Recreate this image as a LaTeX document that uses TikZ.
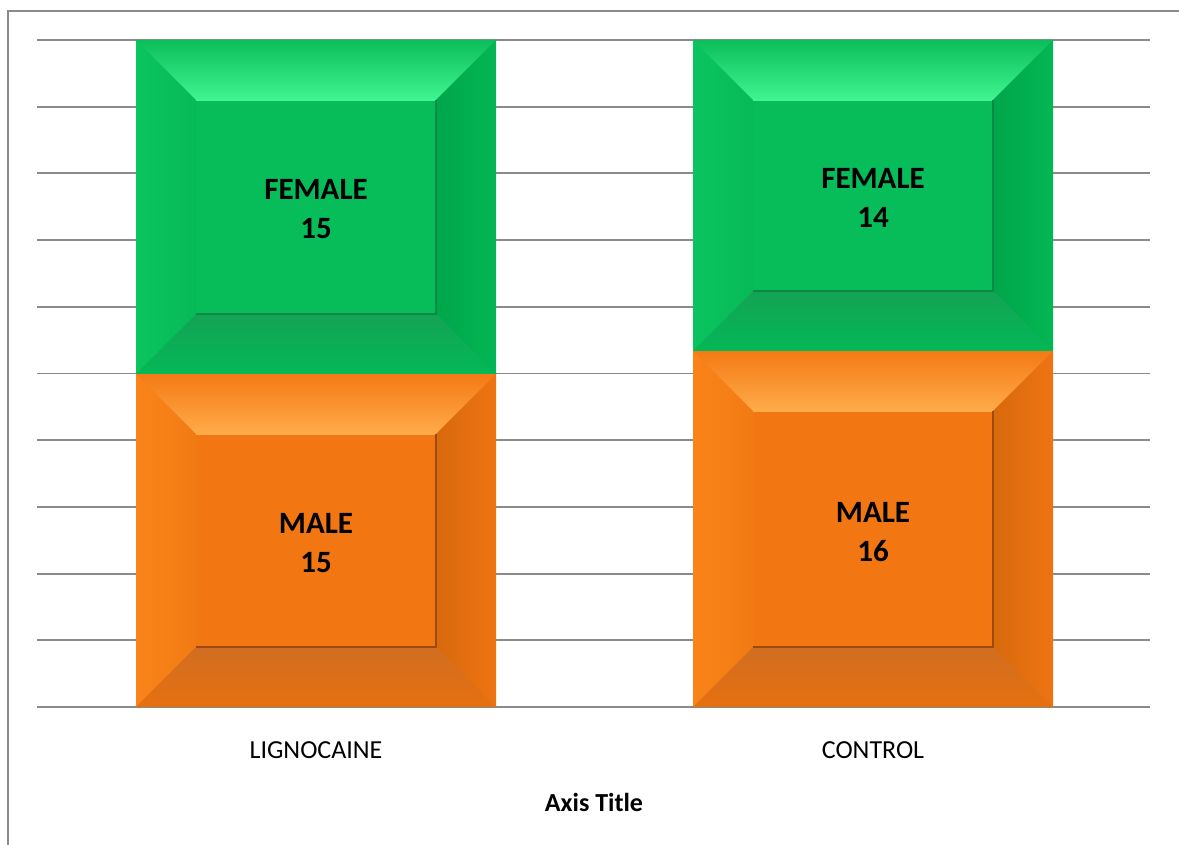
\documentclass[tikz,border=0pt]{standalone}
\usepackage{fontspec}
\setmainfont{Carlito}
\usepackage{tikz}
\usetikzlibrary{positioning}

% green segment colours
\definecolor{gface}{HTML}{07BD59}
\definecolor{gL1}{HTML}{0AC45F}
\definecolor{gL2}{HTML}{07BA58}
\definecolor{gT1}{HTML}{0BBE5A}
\definecolor{gT2}{HTML}{40F590}
\definecolor{gR1}{HTML}{00A64A}
\definecolor{gR2}{HTML}{04B654}
\definecolor{gB1}{HTML}{14A355}
\definecolor{gB2}{HTML}{03B856}
\definecolor{gedge}{HTML}{0A8A45}
% orange segment colours
\definecolor{oface}{HTML}{F27712}
\definecolor{oL1}{HTML}{FA8419}
\definecolor{oL2}{HTML}{F27A14}
\definecolor{oT1}{HTML}{F47A14}
\definecolor{oT2}{HTML}{FFAB4A}
\definecolor{oR1}{HTML}{D8690C}
\definecolor{oR2}{HTML}{EE7412}
\definecolor{oB1}{HTML}{D16E22}
\definecolor{oB2}{HTML}{E6700F}
\definecolor{oedge}{HTML}{9A4A0A}
\definecolor{gridgray}{HTML}{8A8A8A}

\newcommand{\bv}{60}
% bevelled segment: x0,y0,x1,y1,colour prefix
\newcommand{\bevelseg}[5]{%
  \fill[#5face] (#1,#2) rectangle (#3,#4);
  \shade[left color=#5L1, right color=#5L2] (#1,#2) -- ({#1+\bv},{#2+\bv}) -- ({#1+\bv},{#4-\bv}) -- (#1,#4) -- cycle;
  \shade[top color=#5T1, bottom color=#5T2] (#1,#2) -- (#3,#2) -- ({#3-\bv},{#2+\bv}) -- ({#1+\bv},{#2+\bv}) -- cycle;
  \shade[left color=#5R1, right color=#5R2] (#3,#2) -- ({#3-\bv},{#2+\bv}) -- ({#3-\bv},{#4-\bv}) -- (#3,#4) -- cycle;
  \shade[top color=#5B1, bottom color=#5B2] (#1,#4) -- ({#1+\bv},{#4-\bv}) -- ({#3-\bv},{#4-\bv}) -- (#3,#4) -- cycle;
  \draw[#5T2, line width=1.5pt] ({#1+\bv},{#2+\bv}) -- ({#3-\bv},{#2+\bv});
  \draw[#5edge, line width=2pt] ({#1+\bv},{#4-\bv}) -- ({#3-\bv},{#4-\bv}) -- ({#3-\bv},{#2+\bv});
}

\begin{document}
\begin{tikzpicture}[
    x=1pt, y=-1pt,
    gridline/.style={gridgray, line width=1.8pt},
    seglabel/.style={align=center, font=\bfseries\fontsize{31}{39}\selectfont, inner sep=0pt},
    catlabel/.style={font=\fontsize{26}{30}\selectfont, inner sep=0pt}
  ]
    \useasboundingbox (0,0) rectangle (1179,845);

    % frame and grid
    \draw[gridgray, line width=2pt] (8,845) -- (8,11) -- (1179,11);
    \foreach \gy in {40,106.7,...,700} {
      \draw[gridline] (37,\gy) -- (1150,\gy);
    }
    \draw[gridgray, line width=2.5pt] (37,707) -- (1150,707);

    % LIGNOCAINE bar
    \bevelseg{136}{40}{496}{374}{g}
    \bevelseg{136}{374}{496}{707}{o}
    % CONTROL bar
    \bevelseg{693}{40}{1053}{351}{g}
    \bevelseg{693}{351}{1053}{707}{o}

    \node[seglabel] (femaleL) at (316,209) {FEMALE\\15};
    \node[seglabel] (maleL) at (316,543) {MALE\\15};
    \node[seglabel] (femaleC) at (873,198) {FEMALE\\14};
    \node[seglabel] (maleC) at (873,532) {MALE\\16};

    \node[catlabel] (catL) at (316,750) {LIGNOCAINE};
    \node[catlabel] (catC) at (873,750) {CONTROL};
    \node[catlabel, font=\bfseries\fontsize{26}{30}\selectfont] (axistitle) at (594,802) {Axis Title};

  \end{tikzpicture}
\end{document}
